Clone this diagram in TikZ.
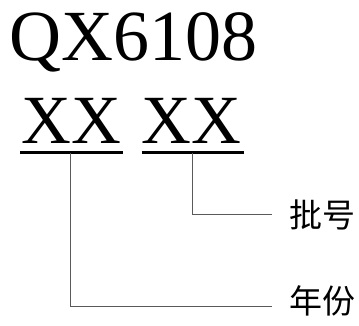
\documentclass[tikz,border=0pt]{standalone}
\usepackage{fontspec}
\setmainfont{Liberation Serif}
\newfontfamily\cjk{Noto Sans CJK SC}
\usepackage{tikz}
\usetikzlibrary{positioning}
\definecolor{leadgray}{RGB}{90, 90, 90}
\tikzset{every picture/.style={line width=0.75pt}}
\tikzset{
  bigtext/.style={anchor=base west, inner sep=0pt, font=\fontsize{72}{72}\selectfont},
  codetext/.style={anchor=base west, inner sep=0pt, font=\fontsize{69}{69}\selectfont},
  uline/.style={line width=3pt},
  leader/.style={color=leadgray, line width=1pt},
  cjklabel/.style={anchor=west, inner sep=0pt, font=\cjk\fontsize{33}{33}\selectfont}
}

\begin{document}
\begin{tikzpicture}[x=1pt,y=1pt,yscale=-1]
\useasboundingbox (0,0) rectangle (359,325);

% Text Node
\node [bigtext] (model) at (9.5,60) {QX6108};
\node [codetext] (year) at (21,143) {XX};
\node [codetext] (batch) at (141,143) {XX};

%Underlines
\coordinate (yearL) at (20,152.5);
\coordinate (yearR) at (123,152.5);
\coordinate (batchL) at (141.5,152.5);
\coordinate (batchR) at (244,152.5);
\draw [uline] (yearL) -- (yearR) ;
\draw [uline] (batchL) -- (batchR) ;

%Leader ends
\coordinate (yearmid) at (70,152.5);
\coordinate (batchmid) at (192.7,152.5);
\coordinate (yearend) at (272,306.7);
\coordinate (batchend) at (272,214.3);

% Text Node
\node [cjklabel, right=17pt of batchend, yshift=-1pt] (batchlab) {批号};
\node [cjklabel, right=17pt of yearend, yshift=6pt] (yearlab) {年份};

%Straight Lines
\draw [leader] (batchmid) |- (batchend) ;
\draw [leader] (yearmid) |- (yearend) ;
\end{tikzpicture}
\end{document}
